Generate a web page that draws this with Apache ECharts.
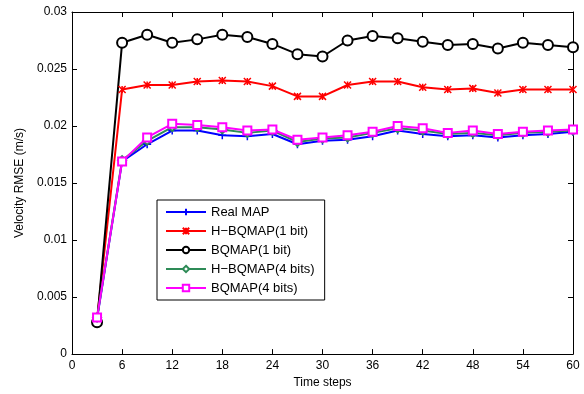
<!DOCTYPE html>
<html>
<head>
<meta charset="utf-8">
<script src="https://cdn.jsdelivr.net/npm/echarts@6/dist/echarts.min.js"></script>
<style>
  html, body { margin: 0; padding: 0; background: #fff; }
  #chart { width: 584px; height: 394px; }
</style>
</head>
<body>
<div id="chart"></div>
<script>
// time steps (x values)
const timeSteps = [3, 6, 9, 12, 15, 18, 21, 24, 27, 30, 33, 36, 39, 42, 45, 48, 51, 54, 57, 60]

// velocity RMSE per method
const realMap = [0.0031, 0.0169, 0.0184, 0.0196, 0.0196, 0.0192, 0.0191, 0.0193, 0.0184, 0.0187, 0.0188, 0.0191, 0.0196, 0.0193, 0.0191, 0.0192, 0.0190, 0.0192, 0.0193, 0.0195]
const hbq1 = [0.0031, 0.0232, 0.0236, 0.0236, 0.0239, 0.0240, 0.0239, 0.0235, 0.0226, 0.0226, 0.0236, 0.0239, 0.0239, 0.0234, 0.0232, 0.0233, 0.0229, 0.0232, 0.0232, 0.0232]
const bq1 = [0.0028, 0.0273, 0.0280, 0.0273, 0.0276, 0.0280, 0.0278, 0.0272, 0.0263, 0.0261, 0.0275, 0.0279, 0.0277, 0.0274, 0.0271, 0.0272, 0.0268, 0.0273, 0.0271, 0.0269]
const hbq4 = [0.0032, 0.0170, 0.0187, 0.0199, 0.0199, 0.0197, 0.0194, 0.0196, 0.0186, 0.0189, 0.0190, 0.0194, 0.0198, 0.0196, 0.0193, 0.0194, 0.0192, 0.0194, 0.0195, 0.0196]
const bq4 = [0.0032, 0.0169, 0.0190, 0.0202, 0.0201, 0.0199, 0.0196, 0.0197, 0.0188, 0.0190, 0.0192, 0.0195, 0.0200, 0.0198, 0.0194, 0.0196, 0.0193, 0.0195, 0.0196, 0.0197]

const seriesNames = ['Real MAP', 'H\u2212BQMAP(1 bit)', 'BQMAP(1 bit)', 'H\u2212BQMAP(4 bits)', 'BQMAP(4 bits)']

const font = 'Liberation Sans, Arial, Helvetica, sans-serif'

const chart = echarts.init(document.getElementById('chart'))

const pairs = (vals) => timeSteps.map((t, i) => [t, vals[i]])

const mkSeries = (name, vals, color, symbol, size) => ({
  name,
  type: 'line',
  data: pairs(vals),
  symbol,
  symbolSize: size,
  showSymbol: true,
  lineStyle: { color, width: 2 },
  itemStyle: { color: color, borderColor: color, borderWidth: 1.5 },
  emphasis: { disabled: true },
  animation: false
})

const tickAxisX = (pos, show) => ({
  type: 'value', position: pos, min: 0, max: 60, interval: 6,
  axisLine: { show: true, onZero: false, lineStyle: { color: '#000', width: 1 } },
  axisTick: { show: true, inside: true, length: 5, lineStyle: { color: '#000' } },
  axisLabel: { show, color: '#000', fontFamily: font, fontSize: 12, margin: 6 },
  splitLine: { show: false }
})

const tickAxisY = (pos, show) => ({
  type: 'value', position: pos, min: 0, max: 0.03, interval: 0.005,
  axisLine: { show: true, onZero: false, lineStyle: { color: '#000', width: 1 } },
  axisTick: { show: true, inside: true, length: 5, lineStyle: { color: '#000' } },
  axisLabel: {
    show, color: '#000', fontFamily: font, fontSize: 12, margin: 5,
    formatter: (v) => String(+v.toFixed(3))
  },
  splitLine: { show: false }
})

const option = {
  backgroundColor: '#fff',
  animation: false,
  grid: { left: 72, right: 11, top: 12, bottom: 39 },
  legend: {
    orient: 'vertical',
    left: 157,
    top: 200,
    padding: [5, 10, 5, 8],
    itemGap: 5,
    itemWidth: 40,
    itemHeight: 8,
    backgroundColor: '#fff',
    borderColor: '#000',
    borderWidth: 1,
    borderRadius: 0,
    textStyle: { color: '#000', fontFamily: font, fontSize: 13, lineHeight: 14 },
    data: seriesNames
  },
  xAxis: [
    Object.assign(tickAxisX('bottom', true), {
      name: 'Time steps', nameLocation: 'middle', nameGap: 22,
      nameTextStyle: { color: '#000', fontFamily: font, fontSize: 12 }
    }),
    tickAxisX('top', false)
  ],
  yAxis: [
    Object.assign(tickAxisY('left', true), {
      name: 'Velocity RMSE (m/s)', nameLocation: 'middle', nameGap: 38,
      nameTextStyle: { color: '#000', fontFamily: font, fontSize: 12 }
    }),
    tickAxisY('right', false)
  ],
  series: [
    mkSeries(seriesNames[0], realMap, '#0000ff', 'path://M5,0 L5,10 M0,5 L10,5', 8),
    mkSeries(seriesNames[1], hbq1, '#ff0000', 'path://M0,0 L10,10 M10,0 L0,10 M5,0 L5,10', 7),
    mkSeries(seriesNames[2], bq1, '#000000', 'emptyCircle', 10),
    mkSeries(seriesNames[3], hbq4, '#2e8b57', 'emptyDiamond', 8),
    mkSeries(seriesNames[4], bq4, '#ff00ff', 'emptyRect', 8)
  ]
}

chart.setOption(option)
</script>
</body>
</html>
